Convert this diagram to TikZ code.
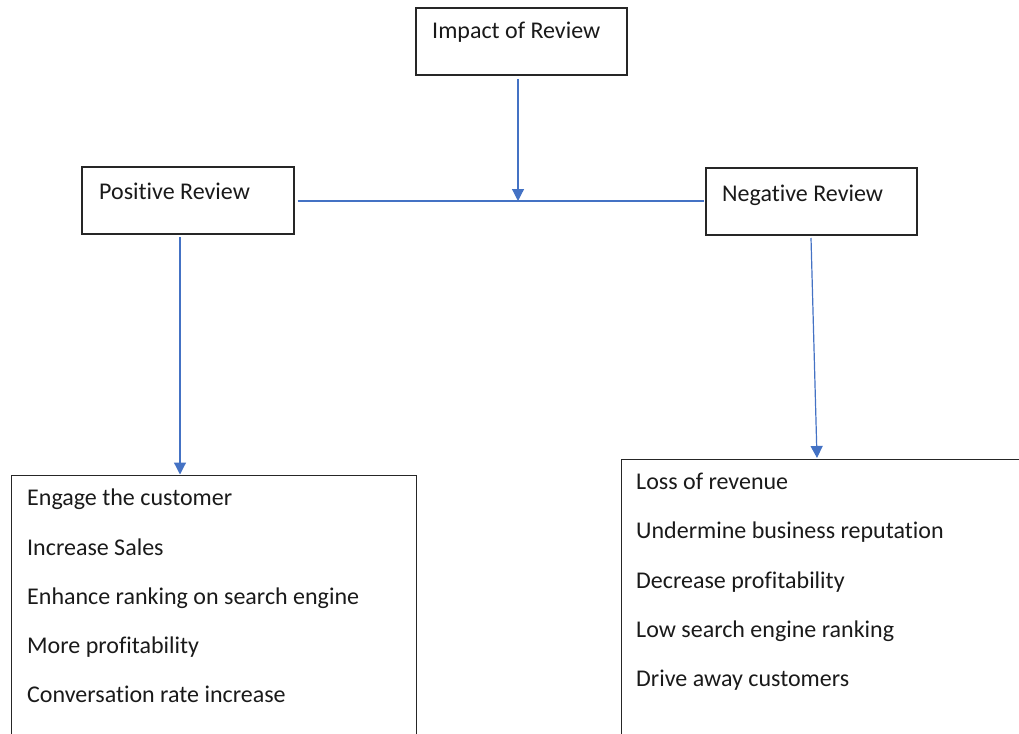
\documentclass[tikz,border=0pt]{standalone}
\usepackage{fontspec}
\setmainfont{Carlito}[RawFeature={-liga;-clig}]
\usetikzlibrary{arrows.meta}
\definecolor{arrowblue}{HTML}{4472C4}
\definecolor{boxline}{HTML}{262626}
\definecolor{txt}{HTML}{1A1A1A}
\tikzset{
  box/.style={draw=boxline, line width=1.3pt, rectangle, inner sep=0pt},
  lbl/.style={anchor=base west, inner sep=0pt, text=txt, font=\fontsize{24}{49.2}\selectfont},
  list/.style={anchor=north west, inner sep=0pt, align=left, text=txt, font=\fontsize{24}{49.2}\selectfont},
  conn/.style={draw=arrowblue, line width=1.2pt},
  arr/.style={conn, -{Triangle[length=12pt,width=12pt]}},
}
\begin{document}
\begin{tikzpicture}[x=1pt,y=-1pt]
\useasboundingbox (0,0) rectangle (1019,733);
\clip (0,0) rectangle (1019,733);
% boxes
\node[box, minimum width=211pt, minimum height=67pt] (impact) at (521.5,41.5) {};
\node[box, minimum width=212pt, minimum height=67pt] (pos) at (188,200.5) {};
\node[box, minimum width=211pt, minimum height=67pt] (neg) at (811.5,201.5) {};
\node[box, minimum width=405pt, minimum height=300pt, anchor=north west] (plist) at (10.5,474.5) {};
\node[box, minimum width=410pt, minimum height=300pt, anchor=north west] (nlist) at (620.5,458.5) {};
% labels
\node[lbl] (impactt) at (432,39) {Impact of Review};
\node[lbl] (post) at (99,199) {Positive Review};
\node[lbl] (negt) at (722,201) {Negative Review};
\node[list] (plistt) at (27,489) {Engage the customer\\Increase Sales\\Enhance ranking on search engine\\More profitability\\Conversation rate increase};
\node[list] (nlistt) at (636,473) {Loss of revenue\\Undermine business reputation\\Decrease profitability\\Low search engine ranking\\Drive away customers};
% connectors
\coordinate (jn) at (518,201);
\draw[conn] ([xshift=3pt]pos.east |- jn) -- ([xshift=-1pt]neg.west |- jn);
\draw[arr] (518,79) coordinate (is) -- (jn);
\draw[arr] (180,237) coordinate (ps) -- (plist.north -| ps);
\draw[arr] (811,238) coordinate (ns) -- (817,458) coordinate (ne);
\end{tikzpicture}
\end{document}
